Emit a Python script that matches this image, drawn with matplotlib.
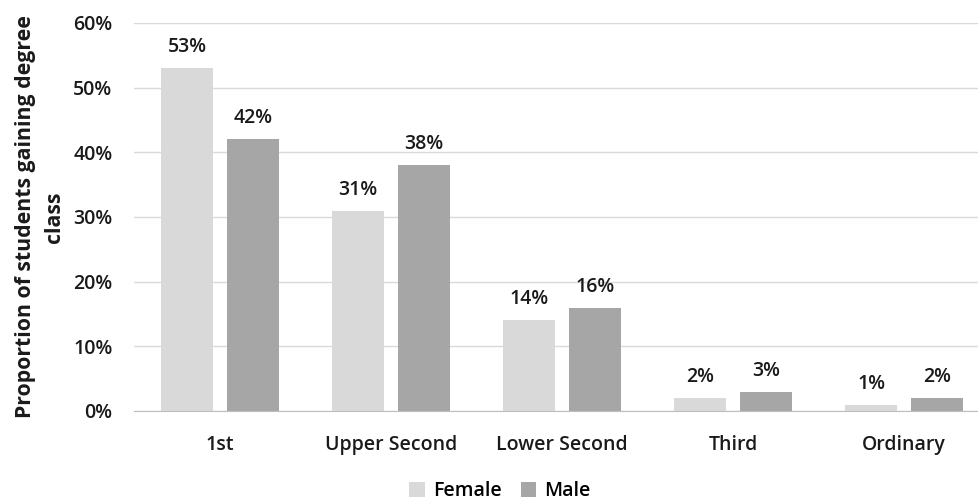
import matplotlib
matplotlib.use("Agg")
import matplotlib.pyplot as plt
import numpy as np
from matplotlib.ticker import FuncFormatter

categories = ["1st", "Upper Second", "Lower Second", "Third", "Ordinary"]
female = [53, 31, 14, 2, 1]
male = [42, 38, 16, 3, 2]
series_names = ["Female", "Male"]
y_ticks = [0, 10, 20, 30, 40, 50, 60]

plt.rcParams["font.family"] = ["Open Sans", "DejaVu Sans"]

fig = plt.figure(figsize=(9.79, 5.04), dpi=100)
ax = fig.add_axes([134.5 / 979, 93 / 504, 855 / 979, 388 / 504])

x = np.arange(len(categories))
width = 0.305
offset = 0.193
colors = ["#d9d9d9", "#a6a6a6"]
text_color = "#1a1a1a"
fs = 14

bars_f = ax.bar(x - offset, female, width, color=colors[0], label=series_names[0], zorder=3)
bars_m = ax.bar(x + offset, male, width, color=colors[1], label=series_names[1], zorder=3)

for bars, vals in ((bars_f, female), (bars_m, male)):
    for b, v in zip(bars, vals):
        ax.annotate(f"{v}%", (b.get_x() + b.get_width() / 2, v),
                    xytext=(0, 21), textcoords="offset pixels",
                    ha="center", va="center", fontsize=fs,
                    fontweight="semibold", color=text_color)

ax.set_xlim(-0.5, len(categories) - 0.5)
ax.set_ylim(0, 60)
ax.set_yticks(y_ticks)
ax.yaxis.set_major_formatter(FuncFormatter(lambda v, p: f"{v:.0f}%"))
ax.set_xticks(x)
ax.set_xticklabels(categories)
ax.tick_params(axis="both", length=0, labelsize=fs, colors=text_color)
ax.tick_params(axis="x", pad=17)
ax.tick_params(axis="y", pad=16)
for lbl in ax.get_xticklabels() + ax.get_yticklabels():
    lbl.set_fontweight("semibold")

ax.grid(axis="y", color="#d9d9d9", linewidth=1, zorder=0)
for s in ("top", "right", "left"):
    ax.spines[s].set_visible(False)
ax.spines["bottom"].set_color("#bfbfbf")
ax.spines["bottom"].set_zorder(4)

ax.set_ylabel("Proportion of students gaining degree\nclass", fontsize=15.3,
              fontweight="bold", color=text_color, linespacing=1.5, labelpad=6)

fig.legend(loc="center", bbox_to_anchor=(500 / 979, 1 - 491 / 504), ncol=2,
           frameon=False, prop={"size": fs, "weight": "semibold"},
           handlelength=0.8, handleheight=0.8,
           handletextpad=0.4, columnspacing=1.0)

fig.savefig("out.png", dpi=100)
